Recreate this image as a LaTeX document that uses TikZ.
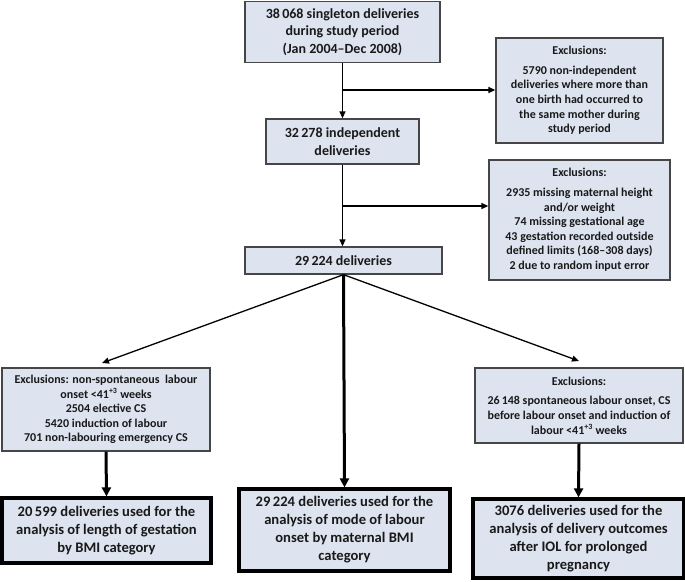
\documentclass[tikz,border=0pt]{standalone}
\usepackage{fontspec}
\setmainfont{Carlito}
\usetikzlibrary{arrows.meta}
\definecolor{boxfill}{RGB}{221,228,239}
\definecolor{boxline}{RGB}{70,70,70}
\definecolor{txt}{RGB}{25,25,25}
\begin{document}
\begin{tikzpicture}[x=1pt,y=-1pt,
  thinbox/.style={draw=boxline,fill=boxfill,line width=1.3pt,inner sep=0pt,align=center,text=txt},
  thickbox/.style={draw=black,fill=boxfill,line width=3.2pt,inner sep=0pt,align=center,text=txt,
     font=\bfseries\fontsize{14.6}{18}\selectfont},
  bigtxt/.style={font=\bfseries\fontsize{14}{17.5}\selectfont},
  smalltxt/.style={font=\bfseries\fontsize{12}{14.6}\selectfont},
  arr/.style={draw=black,line width=1.3pt,-{Triangle[length=7pt,width=6pt]}},
  thickarr/.style={draw=black,line width=3pt,-{Triangle[length=9pt,width=9pt]}}]
\useasboundingbox (0,0) rectangle (685,581);
% main column
\node[thinbox,bigtxt,minimum width=195pt,minimum height=61pt] (top) at (342.5,32)
  {38\,068 singleton deliveries\\during study period\\(Jan 2004--Dec 2008)};
\node[thinbox,bigtxt,minimum width=153pt,minimum height=45pt] (b2) at (342.5,141.5)
  {32\,278 independent\\deliveries};
\node[thinbox,bigtxt,minimum width=197pt,minimum height=27pt] (b3) at (343.5,260.5)
  {29\,224 deliveries};
% exclusions right
\node[thinbox,smalltxt,minimum width=167pt,minimum height=105pt] (ex1) at (579.5,90.5)
  {Exclusions:\\[5pt]5790 non-independent\\deliveries where more than\\one birth had occurred to\\the same mother during\\study period};
\node[thinbox,smalltxt,minimum width=181pt,minimum height=120pt] (ex2) at (579.5,220)
  {Exclusions:\\[5pt]2935 missing maternal height\\and/or weight\\74 missing gestational age\\43 gestation recorded outside\\defined limits (168--308 days)\\2 due to random input error};
% lower exclusions
\node[thinbox,smalltxt,minimum width=208pt,minimum height=83pt] (exL) at (106,409.5)
  {Exclusions: non-spontaneous\ \ labour\\onset <41\textsuperscript{+3} weeks\\2504 elective CS\\5420 induction of labour\\701 non-labouring emergency CS};
\node[thinbox,smalltxt,minimum width=208pt,minimum height=75pt] (exR) at (579,405.5)
  {Exclusions:\\[5pt]26\,148 spontaneous labour onset, CS\\before labour onset and induction of\\labour <41\textsuperscript{+3} weeks};
% outcome boxes
\node[thickbox,minimum width=209pt,minimum height=65pt] (oL) at (106.5,530.5)
  {20\,599 deliveries used for the\\analysis of length of gestation\\by BMI category};
\node[thickbox,minimum width=211pt,minimum height=82pt] (oC) at (344.5,530)
  {29\,224 deliveries used for the\\analysis of mode of labour\\onset by maternal BMI\\category};
\node[thickbox,minimum width=211pt,minimum height=79pt] (oR) at (578.5,538.5)
  {3076 deliveries used for the\\analysis of delivery outcomes\\after IOL for prolonged\\pregnancy};
% connectors
\coordinate (j1) at (342.5,90);
\coordinate (j2) at (342.5,206);
\coordinate (tL) at (102,363);
\coordinate (tR) at (579,361);
\draw[arr] (top.south) -- (b2.north);
\draw[arr] (j1) -- (j1 -| ex1.west);
\draw[arr] (b2.south) -- (b3.north -| b2.south);
\draw[arr] (j2) -- (j2 -| ex2.west);
\draw[arr] (b3.south) -- (tL);
\draw[arr] (b3.south) -- (tR);
\draw[thickarr] (b3.south) -- (oC.north);
\draw[thickarr] (exL.south) -- (oL.north);
\draw[thickarr] (exR.south) -- (oR.north);
\end{tikzpicture}
\end{document}
